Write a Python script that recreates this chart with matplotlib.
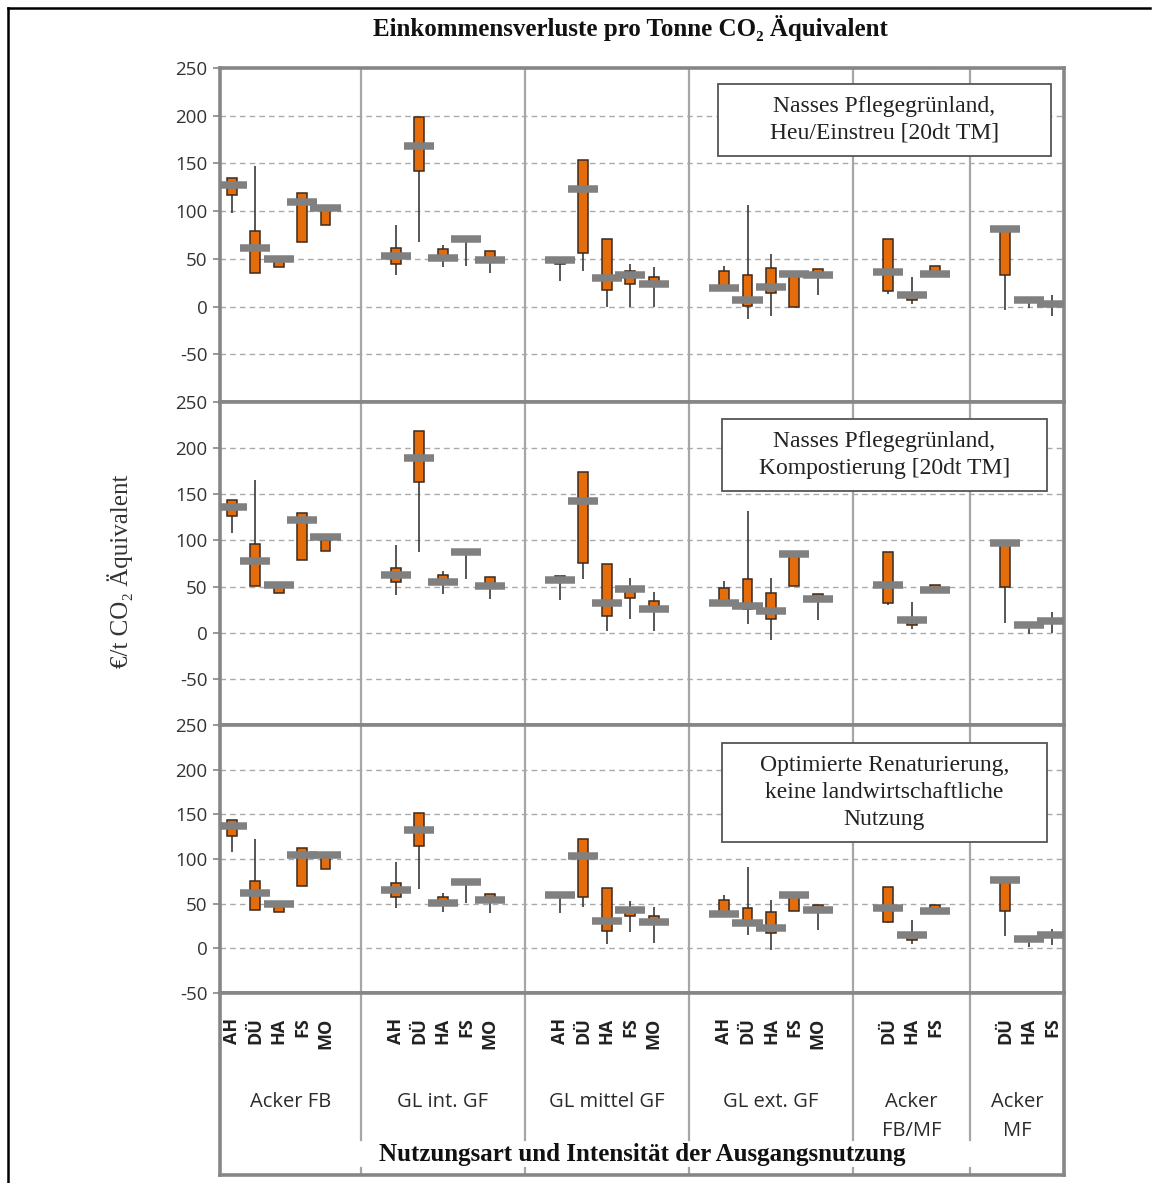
import numpy as np
import matplotlib.pyplot as plt
from matplotlib.patches import Rectangle
from matplotlib.lines import Line2D

plt.rcParams["axes.unicode_minus"] = False

# categories
groups = ["Acker FB", "GL int. GF", "GL mittel GF", "GL ext. GF", "Acker\nFB/MF", "Acker\nMF"]
group_items = [
    ["AH", "DÜ", "HA", "FS", "MO"],
    ["AH", "DÜ", "HA", "FS", "MO"],
    ["AH", "DÜ", "HA", "FS", "MO"],
    ["AH", "DÜ", "HA", "FS", "MO"],
    ["DÜ", "HA", "FS"],
    ["DÜ", "HA", "FS"],
]
panel_titles = [
    "Nasses Pflegegrünland,\nHeu/Einstreu [20dt TM]",
    "Nasses Pflegegrünland,\nKompostierung [20dt TM]",
    "Optimierte Renaturierung,\nkeine landwirtschaftliche\nNutzung",
]

# panel 1: Heu/Einstreu
p1_low  = [98, 35, 41, 68, 86,   33, 68, 41, 43, 35,   27, 37, 0, 0, 0,    19, -13, -10, 0, 12,   13, 3, 34,   -4, -1, -10]
p1_high = [135, 147, 51, 119, 101,   86, 199, 64, 71, 58,   52, 154, 71, 45, 41,   43, 106, 55, 34, 39,   71, 31, 42,   80, 7, 12]
p1_open = [117, 35, 41, 68, 86,   45, 142, 52, 71, 50,   45, 56, 17, 24, 24,   19, 1, 14, 0, 33,   16, 7, 34,   33, 7, 3]
p1_close = [135, 79, 50, 119, 101,   61, 199, 60, 71, 58,   49, 154, 71, 37, 31,   37, 33, 40, 34, 39,   71, 12, 42,   80, 7, 3]
p1_mark = [127, 61, 50, 110, 103,   53, 168, 51, 71, 49,   49, 123, 30, 33, 24,   19, 7, 20, 34, 33,   36, 12, 34,   81, 7, 3]

# panel 2: Kompostierung
p2_low  = [108, 51, 43, 79, 89,   41, 88, 42, 58, 37,   35, 58, 2, 15, 2,   32, 9, -8, 51, 14,   30, 4, 46,   10, -1, 0]
p2_high = [144, 165, 52, 130, 101,   95, 219, 67, 87, 60,   61, 174, 74, 59, 44,   56, 132, 59, 85, 42,   88, 33, 52,   97, 8, 22]
p2_open = [127, 51, 43, 79, 89,   55, 163, 55, 87, 51,   57, 76, 18, 38, 26,   32, 26, 15, 51, 36,   32, 8, 46,   49, 8, 13]
p2_close = [144, 96, 52, 130, 101,   70, 219, 63, 87, 60,   61, 174, 74, 50, 34,   48, 58, 43, 85, 42,   88, 14, 52,   97, 8, 13]
p2_mark = [136, 78, 52, 122, 104,   63, 189, 55, 87, 51,   57, 143, 32, 47, 26,   32, 29, 23, 85, 36,   52, 14, 46,   97, 8, 13]

# panel 3: Optimierte Renaturierung
p3_low  = [108, 43, 41, 70, 89,   45, 66, 41, 51, 40,   40, 46, 5, 18, 6,   38, 15, -2, 42, 21,   28, 5, 42,   14, 1, 4]
p3_high = [144, 122, 50, 112, 105,   97, 152, 62, 74, 61,   62, 122, 68, 53, 46,   60, 91, 54, 60, 49,   69, 32, 49,   76, 10, 22]
p3_open = [126, 43, 41, 70, 89,   57, 115, 51, 74, 54,   60, 58, 19, 36, 29,   38, 27, 17, 42, 43,   30, 9, 42,   42, 10, 15]
p3_close = [144, 75, 50, 112, 105,   73, 152, 57, 74, 61,   62, 122, 68, 45, 36,   54, 45, 41, 60, 49,   69, 15, 49,   76, 10, 15]
p3_mark = [137, 62, 50, 105, 105,   65, 133, 51, 74, 54,   60, 103, 31, 43, 29,   38, 28, 23, 60, 43,   45, 15, 42,   76, 10, 15]

y_ticks = [-50, 0, 50, 100, 150, 200, 250]

# slot layout: blank slot between groups on each side
x_pos, labels, edges, centers = [], [], [], []
pos = 0
for gi, items in enumerate(group_items):
    start = pos
    if gi > 0:
        pos += 1
    for it in items:
        x_pos.append(pos)
        labels.append(it)
        pos += 1
    if gi < len(group_items) - 1:
        pos += 1
        edges.append(pos)
    centers.append((start + pos) / 2 - 0.5)
x_pos = np.array(x_pos, dtype=float)
n_slots = pos

W, H = 1156, 1183
fig = plt.figure(figsize=(W / 100, H / 100), dpi=100)

def frac(x0, y0, x1, y1):
    return [x0 / W, 1 - y1 / H, (x1 - x0) / W, (y1 - y0) / H]

grey = "#868686"
orange = "#e46c0a"
tick_font = "Open Sans"
serif = ["Liberation Serif", "DejaVu Serif"]

panels = [
    (p1_low, p1_high, p1_open, p1_close, p1_mark, -100, 68, 402),
    (p2_low, p2_high, p2_open, p2_close, p2_mark, -100, 402, 725),
    (p3_low, p3_high, p3_open, p3_close, p3_mark, -50, 725, 993),
]
box_pos = [(718, 84, 1051, 156), (722, 419, 1047, 491), (722, 743, 1047, 842)]

for i, (lo, hi, op, cl, mk, ymin, top, bot) in enumerate(panels):
    ax = fig.add_axes(frac(220, top, 1064, bot))
    ax.set_xlim(-0.5, n_slots - 0.5)
    ax.set_ylim(ymin, 250)
    ax.set_yticks(y_ticks)
    ax.set_xticks([])
    ax.tick_params(axis="y", length=5, width=1.2, color=grey, labelsize=13.5,
                   labelcolor="#333333", pad=4)
    for lab in ax.get_yticklabels():
        lab.set_fontfamily(tick_font)
    ax.grid(axis="y", color="#a9a9a9", linestyle=(0, (4, 3)), linewidth=1.0)
    ax.set_axisbelow(True)
    for sp in ax.spines.values():
        sp.set_color(grey)
        sp.set_linewidth(2.6)
    for e in edges:
        ax.axvline(e - 0.5, color="#a6a6a6", lw=1.6, zorder=1)

    lo, hi, op, cl, mk = map(np.array, (lo, hi, op, cl, mk))
    ax.vlines(x_pos, lo, hi, color="#3a3a3a", lw=1.2, zorder=2)
    ax.bar(x_pos, cl - op, bottom=op, width=0.42, color=orange,
           edgecolor="#3b2a1e", linewidth=1.1, zorder=3)
    ax.hlines(mk, x_pos - 0.64, x_pos + 0.64, color="#808080", lw=5.4, zorder=4)

    bx0, by0, bx1, by1 = box_pos[i]
    fig.add_artist(Rectangle((bx0 / W, 1 - by1 / H), (bx1 - bx0) / W, (by1 - by0) / H,
                             transform=fig.transFigure, facecolor="white",
                             edgecolor="#555555", lw=1.3, zorder=5))
    fig.text((bx0 + bx1) / 2 / W, 1 - (by0 + by1) / 2 / H, panel_titles[i],
             ha="center", va="center", family=serif, fontsize=17,
             color="#222222", linespacing=1.35, zorder=6)

# category axis area
cax = fig.add_axes(frac(220, 993, 1064, 1175))
cax.set_xlim(-0.5, n_slots - 0.5)
cax.set_ylim(0, 1)
cax.set_xticks([])
cax.set_yticks([])
for sp in cax.spines.values():
    sp.set_color(grey)
    sp.set_linewidth(2.6)
for e in edges:
    cax.plot([e - 0.5, e - 0.5], [1, 0.19], color="#a6a6a6", lw=1.6)
    cax.plot([e - 0.5, e - 0.5], [0.04, 0], color="#a6a6a6", lw=1.6)
for xp, lab in zip(x_pos, labels):
    cax.text(xp, 0.865, lab, rotation=90, ha="center", va="top",
             family=tick_font, fontweight="bold", fontsize=13, color="#222222")
for c, g in zip(centers, groups):
    cax.text(c, 0.455, g, ha="center", va="top", family=tick_font,
             fontsize=14.5, color="#2b2b2b", linespacing=1.6)
cax.text(0.5, 0.11, "Nutzungsart und Intensität der Ausgangsnutzung",
         transform=cax.transAxes, ha="center", va="center", family=serif,
         fontweight="bold", fontsize=18, color="#111111")

# titles
fig.text(630 / W, 1 - 28 / H, "Einkommensverluste pro Tonne CO₂ Äquivalent",
         ha="center", va="center", family=serif, fontweight="bold",
         fontsize=18, color="#111111")
fig.text(120 / W, 1 - 571 / H, "€/t CO₂ Äquivalent", rotation=90,
         ha="center", va="center", family=serif, fontsize=18, color="#333333")

# outer frame
fig.add_artist(Line2D([8 / W, 8 / W], [0, 1 - 8 / H], color="black", lw=1.8,
                      transform=fig.transFigure))
fig.add_artist(Line2D([8 / W, 1150 / W], [1 - 8 / H, 1 - 8 / H], color="black", lw=1.8,
                      transform=fig.transFigure))

fig.savefig("out.png", dpi=100)
